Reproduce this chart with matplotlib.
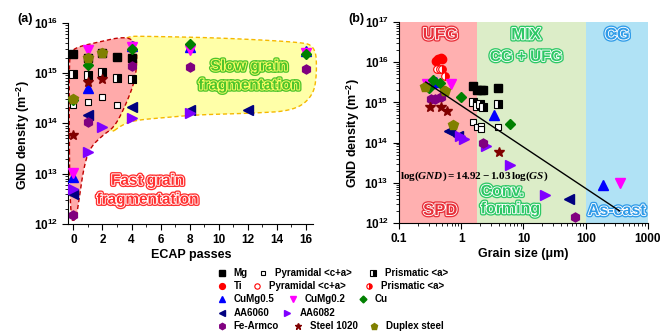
import numpy as np
import matplotlib
matplotlib.use("Agg")
import matplotlib.pyplot as plt
import matplotlib.patheffects as pe
from matplotlib.patches import Polygon
from matplotlib.lines import Line2D
from matplotlib.ticker import LogLocator, NullFormatter, MultipleLocator

plt.rcParams['font.family'] = ['Liberation Sans', 'DejaVu Sans']
plt.rcParams['font.weight'] = 'bold'
plt.rcParams['axes.labelweight'] = 'bold'
plt.rcParams['mathtext.fontset'] = 'custom'
plt.rcParams['mathtext.rm'] = 'Liberation Serif:bold'
plt.rcParams['mathtext.it'] = 'Liberation Serif:bold:italic'
plt.rcParams['mathtext.bf'] = 'Liberation Serif:bold'

# ---- panel (a): GND density vs ECAP passes ----
a_mg_x = [0, 1, 2, 3, 4]
a_mg_y = [2.4e15, 2.0e15, 2.5e15, 2.1e15, 2.0e15]
a_mgpyr_x = [0, 1, 2, 3]
a_mgpyr_y = [2.3e14, 2.6e14, 3.4e14, 2.3e14]
a_mgpri_x = [0, 1, 2, 3, 4]
a_mgpri_y = [9.5e14, 9.1e14, 1.05e15, 7.9e14, 7.7e14]
a_cumg05_x = [0, 1, 4, 8, 16]
a_cumg05_y = [8.7e12, 5.0e14, 3.5e15, 3.3e15, 2.8e15]
a_cumg02_x = [0, 1, 4, 8, 16]
a_cumg02_y = [1.05e13, 2.9e15, 3.3e15, 2.9e15, 2.5e15]
a_cu_x = [0, 1, 4, 8, 16]
a_cu_y = [2.9e14, 1.45e15, 3.0e15, 3.8e15, 2.4e15]
a_aa6060_x = [0, 1, 4, 8, 12]
a_aa6060_y = [4.0e12, 1.45e14, 2.15e14, 1.85e14, 1.85e14]
a_aa6082_x = [0, 1, 2, 4, 8]
a_aa6082_y = [5.0e12, 2.7e13, 8.3e13, 1.25e14, 1.6e14]
a_fe_x = [0, 1, 4, 8, 16]
a_fe_y = [1.5e12, 1.05e14, 1.4e15, 1.3e15, 1.18e15]
a_steel_x = [0, 1, 2]
a_steel_y = [6.0e13, 6.5e14, 7.6e14]
a_duplex_x = [0, 1, 2]
a_duplex_y = [3.0e14, 2.0e15, 2.5e15]

# ---- panel (b): GND density vs grain size ----
b_mg_gs = [1.53, 1.8, 2.05, 2.2, 3.9]
b_mg_y = [2.55e15, 2.05e15, 2.0e15, 2.0e15, 2.25e15]
b_mgpyr_gs = [1.53, 1.8, 2.05, 2.1, 3.9]
b_mgpyr_y = [3.3e14, 2.4e14, 2.6e14, 2.2e14, 2.4e14]
b_mgpri_gs = [1.53, 1.8, 2.0, 2.2, 3.9]
b_mgpri_y = [1.04e15, 8.2e14, 9.0e14, 7.8e14, 9.3e14]
b_ti_gs = [0.40, 0.43, 0.47, 0.50]
b_ti_y = [1.07e16, 1.18e16, 1.26e16, 1.2e16]
b_tipyr_gs = [0.41, 0.45]
b_tipyr_y = [6.8e15, 6.9e15]
b_tipri_gs = [0.49, 0.55, 0.53]
b_tipri_y = [6.7e15, 4.6e15, 2.0e15]
b_cumg05_gs = [0.33, 0.40, 3.4, 190]
b_cumg05_y = [3.0e15, 3.2e15, 4.9e14, 8.9e12]
b_cumg02_gs = [0.28, 0.68, 350]
b_cumg02_y = [2.9e15, 2.9e15, 1.0e13]
b_cu_gs = [0.30, 0.356, 0.456, 0.99, 6.1]
b_cu_y = [2.3e15, 3.6e15, 3.1e15, 1.4e15, 2.9e14]
b_aa6060_gs = [0.64, 0.67, 0.9, 54]
b_aa6060_y = [1.9e14, 2.0e14, 1.5e14, 3.9e12]
b_aa6082_gs = [0.95, 1.1, 2.5, 6.1, 22]
b_aa6082_y = [1.45e14, 1.2e14, 8.0e13, 2.8e13, 5.0e12]
b_fe_gs = [0.33, 0.38, 0.48, 2.25, 68]
b_fe_y = [1.2e15, 1.25e15, 1.35e15, 1.0e14, 1.45e12]
b_steel_gs = [0.31, 0.48, 0.6, 4.1]
b_steel_y = [7.6e14, 7.6e14, 6.2e14, 5.9e13]
b_duplex_gs = [0.26, 0.55, 0.745]
b_duplex_y = [2.45e15, 1.9e15, 2.7e14]

# fit: log(GND) = 14.92 - 1.03 log(GS)
fit_a, fit_b = 14.92, -1.03
fit_gs = [0.27, 350]

# marker styles per series
styles = {
    'Mg': dict(marker='s', color='black', ms=6),
    'Mg pyr': dict(marker='s', color='black', mfc='white', ms=4.5, mew=0.8),
    'Mg pri': dict(marker='s', color='black', fillstyle='right', mfcalt='white', ms=5.5, mew=0.8),
    'Ti': dict(marker='o', color='red', ms=6),
    'Ti pyr': dict(marker='o', color='red', mfc='white', ms=5.5, mew=0.8),
    'Ti pri': dict(marker='o', color='red', fillstyle='right', mfcalt='white', ms=5.5, mew=0.8),
    'CuMg0.5': dict(marker='^', color='blue', ms=6.5),
    'CuMg0.2': dict(marker='v', color='magenta', ms=6.5),
    'Cu': dict(marker='D', color='green', ms=5),
    'AA6060': dict(marker='<', color='navy', ms=6.5),
    'AA6082': dict(marker='>', color='#8000ff', ms=6.5),
    'Fe-Armco': dict(marker='h', color='purple', ms=6.5),
    'Steel 1020': dict(marker='*', color='#800000', ms=7),
    'Duplex steel': dict(marker='p', color='olive', ms=7),
}


def pts(ax, x, y, key):
    ax.plot(x, y, linestyle='none', zorder=5, **styles[key])


def outlined(ax, x, y, s, color, inner, size=11, **kw):
    t = ax.text(x, y, s, color=color, fontsize=size, fontweight='bold', ha='center', va='center', **kw)
    t.set_path_effects([pe.Stroke(linewidth=3.2, foreground=color),
                        pe.Stroke(linewidth=1.3, foreground=inner), pe.Normal()])
    return t


def chaikin(p, n=3):
    p = np.asarray(p, float)
    for _ in range(n):
        q = np.roll(p, -1, axis=0)
        p = np.vstack([np.column_stack([0.75 * p + 0.25 * q]), np.column_stack([0.25 * p + 0.75 * q])])
        p = p.reshape(2, -1, 2).transpose(1, 0, 2).reshape(-1, 2)
    return p


W, H = 671, 331
fig = plt.figure(figsize=(W / 100, H / 100), dpi=100)
axa = fig.add_axes([0.1018, 0.3233, 0.3651, 0.6081])
axb = fig.add_axes([0.5946, 0.3263, 0.3711, 0.6072])

# ---------- panel (a) ----------
red_shape = [(-0.25, 12.1), (-0.3, 15.1), (-0.2, 15.42), (0.3, 15.52), (1.5, 15.6), (3.5, 15.73),
             (4.3, 15.62), (4.38, 15.3), (4.25, 14.85), (3.5, 14.3), (2.8, 13.92), (2.0, 13.76),
             (1.1, 13.5), (0.7, 13.1), (0.4, 12.5), (0.15, 12.05)]
yel_shape = [(2.3, 13.75), (3.5, 14.0), (4.5, 14.07), (6.5, 14.12), (8.5, 14.17), (12.2, 14.2),
             (15.2, 14.25), (16.5, 14.55), (16.75, 15.0), (16.65, 15.55), (15.3, 15.62), (10, 15.7),
             (5, 15.73), (3.6, 15.73), (3.0, 15.5), (2.5, 14.5)]
for shape, fc, ec, z in [(yel_shape, '#ffffa8', '#f5b800', 1), (red_shape, '#ffaaaa', '#c00000', 2)]:
    p = chaikin(shape)
    p[:, 1] = 10 ** p[:, 1]
    axa.add_patch(Polygon(p, closed=True, facecolor=fc, edgecolor=ec, linestyle=(0, (3, 2)),
                          linewidth=1.0, zorder=z, clip_on=False))

pts(axa, a_mg_x, a_mg_y, 'Mg')
pts(axa, a_mgpyr_x, a_mgpyr_y, 'Mg pyr')
pts(axa, a_mgpri_x, a_mgpri_y, 'Mg pri')
pts(axa, a_cumg05_x, a_cumg05_y, 'CuMg0.5')
pts(axa, a_cumg02_x, a_cumg02_y, 'CuMg0.2')
pts(axa, a_cu_x, a_cu_y, 'Cu')
pts(axa, a_aa6060_x, a_aa6060_y, 'AA6060')
pts(axa, a_aa6082_x, a_aa6082_y, 'AA6082')
pts(axa, a_fe_x, a_fe_y, 'Fe-Armco')
pts(axa, a_steel_x, a_steel_y, 'Steel 1020')
pts(axa, a_duplex_x, a_duplex_y, 'Duplex steel')

outlined(axa, 12.1, 10 ** 14.94, 'Slow grain\nfragmentation', '#4cc42c', '#ffff66', linespacing=1.45, zorder=6)
outlined(axa, 5.1, 10 ** 12.67, 'Fast grain\nfragmentation', '#ff3030', 'white', linespacing=1.45, zorder=6)

axa.set_yscale('log')
axa.set_ylim(1e12, 1e16)
axa.set_xlim(-0.35, 16.5)
axa.set_xticks(range(0, 17, 2))
axa.xaxis.set_minor_locator(MultipleLocator(1))
axa.set_xlabel('ECAP passes', fontsize=9, labelpad=2)
axa.set_ylabel('GND density (m$^{\\mathdefault{-2}}$)', fontsize=9)
axa.yaxis.set_label_coords(-0.149, 0.442)

# ---------- panel (b) ----------
axb.axvspan(0.1, 1.8, color='#ffb0b0', zorder=0, lw=0)
axb.axvspan(1.8, 100, color='#dcedc8', zorder=0, lw=0)
axb.axvspan(100, 1000, color='#b0e2f5', zorder=0, lw=0)

pts(axb, b_mg_gs, b_mg_y, 'Mg')
pts(axb, b_mgpyr_gs, b_mgpyr_y, 'Mg pyr')
pts(axb, b_mgpri_gs, b_mgpri_y, 'Mg pri')
pts(axb, b_ti_gs, b_ti_y, 'Ti')
pts(axb, b_tipyr_gs, b_tipyr_y, 'Ti pyr')
pts(axb, b_tipri_gs, b_tipri_y, 'Ti pri')
pts(axb, b_cumg05_gs, b_cumg05_y, 'CuMg0.5')
pts(axb, b_cumg02_gs, b_cumg02_y, 'CuMg0.2')
pts(axb, b_cu_gs, b_cu_y, 'Cu')
pts(axb, b_aa6060_gs, b_aa6060_y, 'AA6060')
pts(axb, b_aa6082_gs, b_aa6082_y, 'AA6082')
pts(axb, b_fe_gs, b_fe_y, 'Fe-Armco')
pts(axb, b_steel_gs, b_steel_y, 'Steel 1020')
pts(axb, b_duplex_gs, b_duplex_y, 'Duplex steel')

gs = np.array(fit_gs)
axb.plot(gs, 10 ** (fit_a + fit_b * np.log10(gs)), color='black', lw=1.0, zorder=6)
axb.text(0.105, 10 ** 13.17, r'$\log(GND) = 14.92 - 1.03\,\log(GS)$', fontsize=8, ha='left', va='center', zorder=7)

red_t, grn_t, blu_t = '#e8303a', '#2ec866', '#2f9be8'
outlined(axb, 0.46, 10 ** 16.68, 'UFG', red_t, 'white', size=12)
outlined(axb, 11, 10 ** 16.68, 'MIX', grn_t, 'white', size=12)
outlined(axb, 11, 10 ** 16.13, 'CG + UFG', grn_t, 'white', size=11)
outlined(axb, 320, 10 ** 16.68, 'CG', blu_t, 'white', size=12)
outlined(axb, 0.46, 10 ** 12.31, 'SPD', red_t, 'white', size=12)
t = outlined(axb, 2.05, 10 ** 12.57, 'Conv.\nforming', grn_t, 'white', size=11.5, linespacing=1.2)
t.set_ha('left')
outlined(axb, 316, 10 ** 12.31, 'As-cast', blu_t, 'white', size=11.5)

axb.set_xscale('log')
axb.set_yscale('log')
axb.set_xlim(0.1, 1000)
axb.set_ylim(1e12, 1e17)
axb.set_xticks([0.1, 1, 10, 100, 1000], labels=['0.1', '1', '10', '100', '1000'])
axb.xaxis.set_minor_locator(LogLocator(base=10, subs=np.arange(2, 10)))
axb.xaxis.set_minor_formatter(NullFormatter())
axb.set_xlabel('Grain size (\u03bcm)', fontsize=9, labelpad=2)
axb.set_ylabel('GND density (m$^{\\mathdefault{-2}}$)', fontsize=9)
axb.yaxis.set_label_coords(-0.149, 0.445)

for ax in (axa, axb):
    for s in ('top', 'right'):
        ax.spines[s].set_visible(False)
    ax.spines['left'].set_linewidth(0.8)
    ax.spines['bottom'].set_linewidth(0.8)
    ax.tick_params(which='major', direction='out', length=4, width=0.8, labelsize=8.5)
    ax.tick_params(which='minor', direction='out', length=2, width=0.6)
    ax.yaxis.set_minor_locator(LogLocator(base=10, subs=np.arange(2, 10)))
    ax.yaxis.set_minor_formatter(NullFormatter())

fig.text(25 / W, 1 - 19 / H, '(a)', fontsize=9, ha='center', va='center')
fig.text(356 / W, 1 - 19 / H, '(b)', fontsize=9, ha='center', va='center')

# ---------- legend (figure pixel layout) ----------
legend_rows = [
    [('Mg', 'Mg', 221.7), ('Pyramidal <c+a>', 'Mg pyr', 262.7), ('Prismatic <a>', 'Mg pri', 373)],
    [('Ti', 'Ti', 221.7), ('Pyramidal <c+a>', 'Ti pyr', 256.7), ('Prismatic <a>', 'Ti pri', 369)],
    [('CuMg0.5', 'CuMg0.5', 221.7), ('CuMg0.2', 'CuMg0.2', 292.7), ('Cu', 'Cu', 362.7)],
    [('AA6060', 'AA6060', 221.7), ('AA6082', 'AA6082', 287.3)],
    [('Fe-Armco', 'Fe-Armco', 221.7), ('Steel 1020', 'Steel 1020', 298), ('Duplex steel', 'Duplex steel', 374)],
]
row_y = [272.5, 285.8, 299.3, 312.7, 326.2]
for row, yp in zip(legend_rows, row_y):
    for label, key, xp in row:
        st = dict(styles[key])
        st['ms'] = st['ms'] * 0.7
        fig.add_artist(Line2D([xp / W], [1 - yp / H], transform=fig.transFigure, linestyle='none', **st))
        fig.text((xp + 12) / W, 1 - yp / H, label, fontsize=7, ha='left', va='center')

fig.savefig('out.png', dpi=100)
